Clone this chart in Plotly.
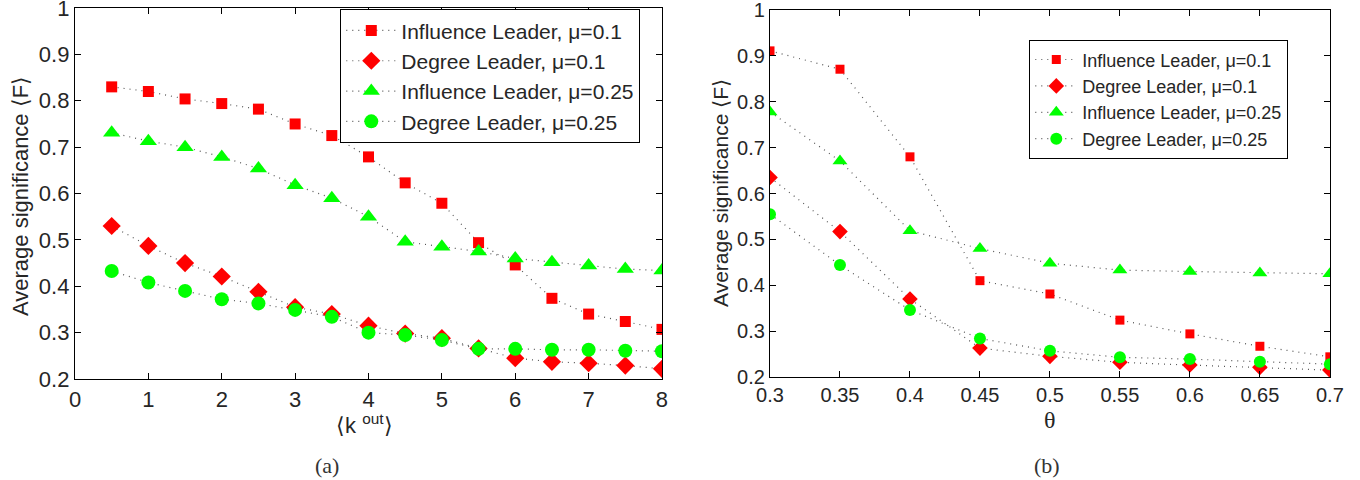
import plotly.graph_objects as go

# ---------------- data ----------------
k_out = [0.5, 1, 1.5, 2, 2.5, 3, 3.5, 4, 4.5, 5, 5.5, 6, 6.5, 7, 7.5, 8]
a_infl_01 = [0.830, 0.820, 0.804, 0.794, 0.782, 0.750, 0.725, 0.679, 0.623, 0.579, 0.494, 0.446, 0.374, 0.340, 0.324, 0.307]
a_deg_01 = [0.530, 0.487, 0.450, 0.421, 0.388, 0.355, 0.340, 0.315, 0.298, 0.288, 0.266, 0.245, 0.237, 0.234, 0.229, 0.222]
a_infl_025 = [0.731, 0.713, 0.700, 0.679, 0.654, 0.618, 0.590, 0.550, 0.496, 0.485, 0.475, 0.460, 0.452, 0.445, 0.437, 0.434]
a_deg_025 = [0.433, 0.408, 0.390, 0.372, 0.363, 0.349, 0.334, 0.300, 0.295, 0.284, 0.265, 0.265, 0.263, 0.263, 0.261, 0.260]

theta = [0.3, 0.35, 0.4, 0.45, 0.5, 0.55, 0.6, 0.65, 0.7]
b_infl_01 = [0.911, 0.871, 0.680, 0.410, 0.381, 0.324, 0.294, 0.267, 0.244]
b_deg_01 = [0.635, 0.517, 0.370, 0.263, 0.245, 0.232, 0.226, 0.221, 0.215]
b_infl_025 = [0.778, 0.671, 0.519, 0.480, 0.448, 0.433, 0.430, 0.427, 0.425]
b_deg_025 = [0.555, 0.444, 0.346, 0.284, 0.257, 0.243, 0.239, 0.233, 0.228]

names = ["Influence Leader, μ=0.1", "Degree Leader, μ=0.1",
         "Influence Leader, μ=0.25", "Degree Leader, μ=0.25"]
colors = ["#ff0000", "#ff0000", "#00ff00", "#00ff00"]
symbols = ["square", "diamond", "triangle-up", "circle"]

y_ticks = [0.2, 0.3, 0.4, 0.5, 0.6, 0.7, 0.8, 0.9, 1.0]
y_labels = ["0.2", "0.3", "0.4", "0.5", "0.6", "0.7", "0.8", "0.9", "1"]
a_xticks = [0, 1, 2, 3, 4, 5, 6, 7, 8]
b_xticks = [0.3, 0.35, 0.4, 0.45, 0.5, 0.55, 0.6, 0.65, 0.7]
b_xlabels = ["0.3", "0.35", "0.4", "0.45", "0.5", "0.55", "0.6", "0.65", "0.7"]

# ---------------- figure ----------------
fig = go.Figure()
FONT = "Liberation Sans, Arial, Helvetica, sans-serif"
SERIF = "Liberation Serif, Times New Roman, serif"
line_style = dict(color="#555555", width=1.2, dash="1px,5px")

a_series = [a_infl_01, a_deg_01, a_infl_025, a_deg_025]
a_sizes = [11, 14, 15, 14]
for i, ys in enumerate(a_series):
    fig.add_trace(go.Scatter(
        x=k_out, y=ys, mode="lines+markers", name=names[i],
        line=line_style,
        marker=dict(symbol=symbols[i], color=colors[i], size=a_sizes[i], line=dict(width=0)),
        xaxis="x", yaxis="y", legend="legend"))

b_series = [b_infl_01, b_deg_01, b_infl_025, b_deg_025]
b_sizes = [9, 12, 13, 12]
for i, ys in enumerate(b_series):
    fig.add_trace(go.Scatter(
        x=theta, y=ys, mode="lines+markers", name=names[i],
        line=line_style,
        marker=dict(symbol=symbols[i], color=colors[i], size=b_sizes[i], line=dict(width=0)),
        xaxis="x2", yaxis="y2", legend="legend2"))

W, H = 1360, 480
def px_x(p):
    return p / W
def px_y(p):
    return 1 - p / H

axis_common = dict(showline=True, linecolor="black", linewidth=1.3, mirror="ticks",
                   ticks="inside", ticklen=6, tickcolor="black", tickwidth=1,
                   showgrid=False, zeroline=False, automargin=False,
                   ticklabeloverflow="allow")

fig.update_layout(
    width=W, height=H,
    margin=dict(l=0, r=0, t=0, b=0, autoexpand=False),
    paper_bgcolor="white", plot_bgcolor="white",
    font=dict(family=FONT, color="#262626"),
    xaxis=dict(domain=[px_x(75), px_x(662)], range=[0, 8.0001], tickvals=a_xticks,
               tickfont=dict(size=22), anchor="y", **axis_common),
    yaxis=dict(domain=[px_y(379), px_y(8)], range=[0.2, 1.0001], tickvals=y_ticks, ticktext=y_labels,
               tickfont=dict(size=22), anchor="x", **axis_common),
    xaxis2=dict(domain=[px_x(770), px_x(1330)], range=[0.3, 0.7001], tickvals=b_xticks, ticktext=b_xlabels,
                tickfont=dict(size=20), anchor="y2", **axis_common),
    yaxis2=dict(domain=[px_y(377), px_y(10)], range=[0.2, 1.0001], tickvals=y_ticks, ticktext=y_labels,
                tickfont=dict(size=20), anchor="x2", **axis_common),
    legend=dict(x=px_x(340), y=px_y(9), xanchor="left", yanchor="top",
                bgcolor="white", bordercolor="black", borderwidth=1.3,
                font=dict(size=21, family=FONT, color="#262626"), itemwidth=50,
                tracegroupgap=0),
    legend2=dict(x=px_x(1029), y=px_y(40), xanchor="left", yanchor="top",
                 bgcolor="white", bordercolor="black", borderwidth=1.3,
                 font=dict(size=18, family=FONT, color="#262626"), itemwidth=42,
                 tracegroupgap=0),
    showlegend=True,
)

ann = [
    dict(text="Average significance ⟨F⟩", x=px_x(20), y=px_y(196), textangle=-90,
         font=dict(size=22, family=FONT, color="#262626")),
    dict(text="Average significance ⟨F⟩", x=px_x(720), y=px_y(193), textangle=-90,
         font=dict(size=21, family=FONT, color="#262626")),
    dict(text="⟨k <sup>out</sup>⟩", x=px_x(364), y=px_y(424),
         font=dict(size=22, family=FONT, color="#262626")),
    dict(text="θ", x=px_x(1050), y=px_y(420),
         font=dict(size=24, family=SERIF, color="#262626")),
    dict(text="(a)", x=px_x(327), y=px_y(465),
         font=dict(size=22, family=SERIF, color="#333333")),
    dict(text="(b)", x=px_x(1047), y=px_y(465),
         font=dict(size=22, family=SERIF, color="#333333")),
]
for a in ann:
    a.update(xref="paper", yref="paper", showarrow=False, xanchor="center", yanchor="middle")
fig.update_layout(annotations=ann)

fig.write_html("out.html", config={"displayModeBar": False},
               post_script="document.body.style.margin='0';")
